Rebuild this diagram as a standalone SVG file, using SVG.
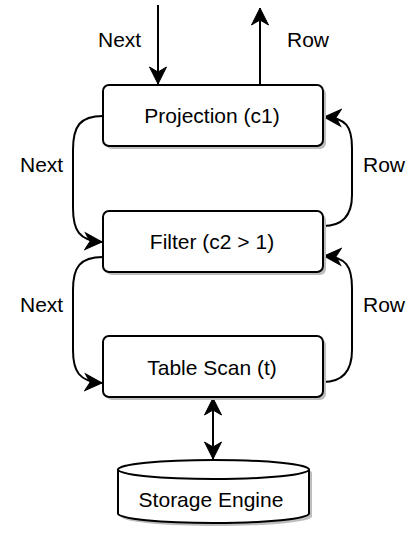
<svg xmlns="http://www.w3.org/2000/svg" width="415" height="536" viewBox="0 0 415 536">
  <defs>
    <style>
      .box { fill: #ffffff; stroke: #000000; stroke-width: 2; }
      .shadow { fill: #bdbdbd; stroke: none; }
      .lbl { font-family: "Liberation Sans", Arial, Helvetica, sans-serif; font-size: 21px; fill: #000000; }
      .mid { text-anchor: middle; }
      .edge { fill: none; stroke: #000000; stroke-width: 2; }
    </style>
    <marker id="arrow" markerUnits="userSpaceOnUse" markerWidth="20" markerHeight="20" viewBox="-18 -10 20 20" refX="0" refY="0" orient="auto-start-reverse">
      <path d="M0,0 L-17,-8.5 L-12,0 L-17,8.5 Z" fill="#000000" stroke="#000000" stroke-width="1" stroke-linejoin="miter"/>
    </marker>
  </defs>

  <g id="connectors">
    <path class="edge" d="M158,5 L158,84" marker-end="url(#arrow)"/>
    <path class="edge" d="M260,85 L260,8" marker-end="url(#arrow)"/>
    <path class="edge" d="M103,116 C80,116 73,126 73,150 L73,208 C73,230 79,241 102,242" marker-end="url(#arrow)"/>
    <path class="edge" d="M323,226 C342,226 352,216 352,195 L352,148 C352,126 346,118 324,117" marker-end="url(#arrow)"/>
    <path class="edge" d="M103,257 C80,257 73,267 73,290 L73,350 C73,371 79,382 102,383" marker-end="url(#arrow)"/>
    <path class="edge" d="M323,382 C342,382 352,372 352,350 L352,288 C352,266 346,257 324,256" marker-end="url(#arrow)"/>
    <path class="edge" d="M213,398 L213,459" marker-start="url(#arrow)" marker-end="url(#arrow)"/>
  </g>

  <g id="labels">
    <text class="lbl" x="98" y="47">Next</text>
    <text class="lbl" x="287" y="47">Row</text>
    <text class="lbl" x="20" y="172">Next</text>
    <text class="lbl" x="363" y="172">Row</text>
    <text class="lbl" x="20" y="312">Next</text>
    <text class="lbl" x="363" y="312">Row</text>
  </g>

  <g id="projection">
    <rect class="shadow" x="106" y="88" width="220" height="61" rx="6"/>
    <rect class="box" x="103" y="85" width="220" height="61" rx="6"/>
    <text class="lbl mid" x="212" y="123">Projection (c1)</text>
  </g>

  <g id="filter">
    <rect class="shadow" x="106" y="214" width="220" height="61" rx="6"/>
    <rect class="box" x="103" y="211" width="220" height="61" rx="6"/>
    <text class="lbl mid" x="212" y="249">Filter (c2 &gt; 1)</text>
  </g>

  <g id="tablescan">
    <rect class="shadow" x="106" y="339" width="220" height="61" rx="6"/>
    <rect class="box" x="103" y="336" width="220" height="61" rx="6"/>
    <text class="lbl mid" x="212" y="375">Table Scan (t)</text>
  </g>

  <g id="storage">
    <path class="shadow" d="M121,472.5 A95.5,9.5 0 0 1 312,472.5 L312,516.5 A95.5,9.5 0 0 1 121,516.5 Z"/>
    <path class="box" d="M118,469.5 A95.5,9.5 0 0 1 309,469.5 L309,513.5 A95.5,9.5 0 0 1 118,513.5 Z"/>
    <path class="edge" d="M118,469.5 A95.5,9.5 0 0 0 309,469.5"/>
    <text class="lbl mid" x="211" y="507">Storage Engine</text>
  </g>
</svg>
